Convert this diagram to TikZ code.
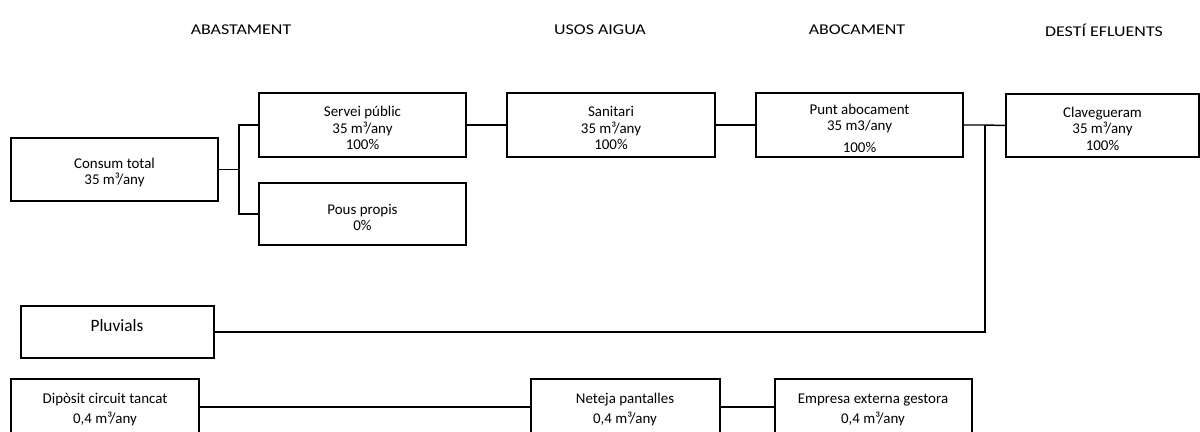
\documentclass[tikz,border=0pt]{standalone}
\usepackage{fontspec}
\setmainfont{Carlito}
\usetikzlibrary{fit}
\begin{document}
\begin{tikzpicture}[x=0.75pt,y=-0.75pt,
  box/.style={draw=black,line width=1.1pt,inner sep=0pt},
  btxt/.style={inner sep=0pt,align=center,yshift=-2.4pt,
    font=\fontsize{11.2}{12.4}\selectfont},
  ttl/.style={inner sep=0pt,font=\fontsize{11.2}{12}\selectfont},
  txt/.style={inner sep=0pt,align=center,font=\fontsize{11.2}{15}\selectfont},
  conn/.style={draw=black,line width=1.1pt}]
\useasboundingbox (0,0) rectangle (1200,432);
\clip (0,0) rectangle (1200,432);
% titles
\node[ttl] (t1) at (241,30) {\scalebox{1.2}[1]{ABASTAMENT}};
\node[ttl] (t2) at (600,30) {\scalebox{1.2}[1]{USOS AIGUA}};
\node[ttl] (t3) at (857,30) {\scalebox{1.2}[1]{ABOCAMENT}};
\node[ttl] (t4) at (1104,30) {\scalebox{1.2}[1]{DESTÍ EFLUENTS}};
% top row boxes
\node[box,fit={(11,138)(218,201)}] (consum) {};
\node[box,fit={(259,93)(466,157)}] (servei) {};
\node[box,fit={(259,183)(466,245)}] (pous) {};
\node[box,fit={(507,93)(715,157)}] (sanitari) {};
\node[box,fit={(756,93)(963,157)}] (punt) {};
\node[box,fit={(1006,94)(1199,157)}] (clav) {};
% top row texts
\node[btxt] (consumtxt) at (consum.center) {Consum total\\35 m³/any};
\node[btxt] (serveitxt) at (servei.center) {Servei públic\\35 m³/any\\100\%};
\node[btxt] (poustxt) at (pous.center) {Pous propis\\0\%};
\node[btxt] (sanitaritxt) at (sanitari.center) {Sanitari\\35 m³/any\\100\%};
\node[btxt] (punttxt) at (punt.center) {Punt abocament\\35 m3/any\\[4pt]100\%};
\node[btxt] (clavtxt) at (clav.center) {Clavegueram\\35 m³/any\\100\%};
% pluvials
\node[box,fit={(21,306)(214,358)}] (pluv) {};
\node[inner sep=0pt,font=\fontsize{13}{15}\selectfont] (pluvtxt) at (117,326) {Pluvials};
% bottom row
\node[box,fit={(11,379)(199,445)}] (dipo) {};
\node[txt] (dipotxt) at (105,410) {Dipòsit circuit tancat\\0,4 m³/any};
\node[box,fit={(531,379)(720,445)}] (net) {};
\node[txt] (nettxt) at (625,410) {Neteja pantalles\\0,4 m³/any};
\node[box,fit={(775,379)(972,445)}] (emp) {};
\node[txt] (emptxt) at (873,410) {Empresa externa gestora\\0,4 m³/any};
% junction coordinates
\coordinate (j1) at (239,169.5);
\coordinate (j2) at (985,125);
\coordinate (j3) at (0,407);
% connectors
\draw[conn] (consum.east) -- (j1);
\draw[conn] (servei.west) -| (j1) |- (pous.west);
\draw[conn] (servei.east) -- (sanitari.west);
\draw[conn] (sanitari.east) -- (punt.west);
\draw[conn] (punt.east) -- (j2) -- (clav.west);
\draw[conn] (pluv.east) -| (j2);
\draw[conn] (dipo.east |- j3) -- (net.west |- j3);
\draw[conn] (net.east |- j3) -- (emp.west |- j3);
\end{tikzpicture}
\end{document}
